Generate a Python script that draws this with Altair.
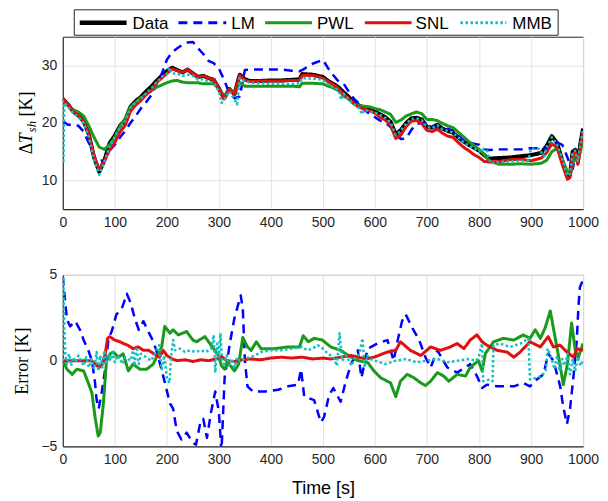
import altair as alt
import pandas as pd

SERIES = ["Data", "LM", "PWL", "SNL", "MMB"]
COLORS = ["#000000", "#0000FF", "#1A9A1A", "#E01010", "#10BFBF"]
DASHES = [[1, 0], [9, 6], [1, 0], [1, 0], [2.5, 2.5]]
WIDTHS = [4, 2.5, 3, 3, 2.5]
LEGEND_WIDTHS = [4.5, 3, 3, 3, 3]

# ---------------- top panel: superheat temperature [K] ----------------
T_TOP = [0, 10, 20, 30, 40, 50, 60, 70, 80, 90,
         100, 110, 120, 130, 140, 150, 160, 170, 180, 190,
         200, 210, 220, 230, 240, 250, 260, 270, 280, 290,
         300, 310, 320, 330, 340, 350, 360,
         380, 400, 420, 440, 455, 460, 480, 500,
         510, 520, 530, 540, 550, 560, 570, 580, 590, 600,
         610, 620, 630, 640, 650, 660, 670, 680, 690, 700,
         710, 720, 730, 740, 750, 760, 770, 780, 790, 800,
         810, 820,
         840, 860, 880, 900, 920,
         930, 940, 950, 960, 970,
         975, 980, 985, 990, 995, 1000]

DATA_TOP = [24.2, 23.2, 22.0, 21.3, 20.3, 18.0, 14.0, 11.5, 13.5, 16.5,
            17.8, 19.5, 20.5, 22.8, 23.8, 24.5, 25.5, 26.3, 27.3, 28.2,
            29.0, 29.6, 29.2, 28.8, 29.3, 28.6, 28.0, 28.2, 27.8, 27.5,
            26.0, 24.3, 25.9, 25.0, 28.4, 27.6, 27.3,
            27.3, 27.4, 27.4, 27.5, 27.6, 28.5, 28.4, 28.0,
            27.3, 26.8, 26.2, 25.3, 24.5, 23.5, 23.0, 22.6, 22.3, 22.0,
            21.5, 21.0, 20.2, 18.0, 18.8, 20.0, 20.8, 20.9, 20.6, 19.3,
            19.2, 19.7, 19.0, 18.6, 18.3, 17.5, 16.8, 16.2, 15.7, 15.2,
            14.4, 13.8,
            13.9, 14.0, 14.2, 14.4, 14.8,
            16.0, 17.7, 16.5, 13.5, 10.6,
            11.0, 15.0, 15.3, 13.2, 16.5, 19.0]

SNL_TOP = [24.2, 23.2, 22.0, 21.3, 20.3, 18.0, 14.2, 11.8, 13.4, 15.3,
           16.6, 18.4, 19.6, 22.0, 23.1, 23.9, 24.9, 25.7, 27.0, 27.8,
           28.6, 29.4, 29.1, 28.8, 29.3, 28.6, 28.0, 28.2, 27.8, 27.5,
           26.0, 24.2, 25.8, 25.0, 28.3, 27.4, 27.2,
           27.3, 27.3, 27.3, 27.4, 27.4, 28.3, 28.3, 27.8,
           27.2, 26.7, 26.0, 25.0, 24.2, 23.3, 22.7, 22.4, 22.1, 21.7,
           21.0, 20.5, 19.6, 17.3, 17.9, 19.4, 20.3, 20.4, 19.9, 18.7,
           18.5, 18.9, 18.2, 17.7, 17.5, 16.6, 15.8, 15.2, 14.5, 14.0,
           13.3, 13.2,
           13.3, 13.6, 13.7, 13.4, 13.9,
           14.8, 16.4, 15.7, 12.8, 10.2,
           10.5, 14.6, 14.9, 12.8, 16.0, 18.4]

PWL_TOP = [24.0, 23.0, 22.3, 21.9, 21.2, 19.5, 17.5, 15.8, 15.4, 16.2,
           17.5, 19.4, 20.8, 22.8, 23.6, 24.4, 25.0, 25.6, 26.2, 26.6,
           27.0, 27.3, 27.4, 27.1, 27.0, 27.0, 27.0, 26.8, 26.8, 26.8,
           26.0, 24.6, 25.8, 25.3, 27.0, 26.4, 26.4,
           26.4, 26.4, 26.4, 26.4, 26.3, 26.9, 26.9, 26.8,
           26.4, 26.1, 25.6, 24.7, 24.1, 23.3, 23.0, 22.9, 22.8, 22.5,
           22.3, 21.9, 21.5, 20.1, 20.5, 21.2, 21.6, 21.9, 21.6, 20.6,
           20.6, 20.4, 19.9, 19.5, 19.2, 18.4, 17.6, 16.8, 16.1, 15.4,
           14.5, 13.3,
           12.8, 12.8, 12.9, 12.8, 13.0,
           13.5, 15.0, 15.6, 13.6, 11.6,
           11.3, 12.8, 14.6, 13.5, 15.0, 17.5]

LM_TOP = [20.3, 19.7, 19.7, 19.5, 18.5, 16.5, 14.2, 13.4, 13.5, 15.2,
          16.2, 17.5, 18.6, 20.0, 21.2, 22.5, 23.6, 24.8, 26.8, 28.5,
          31.0, 32.3, 33.0, 33.6, 34.0, 34.1, 33.0, 32.0, 30.8, 30.4,
          29.5, 27.5, 25.2, 24.3, 24.6, 29.2, 29.3,
          29.3, 29.3, 29.3, 29.1, 29.0, 29.2, 30.3, 31.0,
          29.5, 28.3, 27.2, 26.8, 25.4, 24.2, 23.3, 22.3, 21.5, 21.0,
          20.4, 20.0, 19.3, 18.0, 17.2, 17.3, 18.8, 19.8, 20.0, 19.9,
          19.5, 19.0, 18.7, 19.0, 18.7, 17.8, 17.0, 16.6, 16.4, 16.2,
          15.4, 15.3,
          15.4, 15.4, 15.4, 15.6, 15.6,
          15.4, 16.2, 16.6, 16.2, 14.0,
          12.6, 12.0, 13.8, 14.6, 15.0, 13.8]

T_MMB = [0, 1, 3, 10, 20, 30, 40, 50, 60, 70,
         80, 90, 100, 110, 120, 130, 140, 150, 160, 170,
         180, 190, 200, 205, 210, 220, 230, 240, 250, 260,
         270, 280, 290, 300, 305, 310, 320, 330, 335, 340,
         350, 360, 380, 400, 420, 440, 455, 460, 480, 500,
         510, 520, 530, 535, 540, 550, 560, 570, 575, 580,
         590, 600, 610, 620, 630, 640, 650, 660, 670, 680,
         690, 700, 710, 720, 730, 740, 750, 760, 770, 780,
         790, 800, 806, 815, 822, 840, 860, 880, 895, 900,
         915, 925, 930, 940, 950, 960, 970, 975, 980, 985,
         990, 995, 1000]
MMB_TOP = [24.0, 13.0, 23.5, 22.8, 21.7, 21.0, 20.0, 17.6, 13.6, 11.0,
           13.2, 16.0, 17.6, 19.2, 20.3, 22.6, 23.6, 24.2, 25.2, 26.0,
           27.1, 28.0, 28.5, 29.6, 28.6, 28.6, 28.2, 28.4, 28.2, 27.5,
           27.6, 27.2, 27.0, 25.5, 23.5, 24.0, 25.5, 24.2, 23.2, 27.8,
           27.3, 27.0, 26.9, 26.8, 26.8, 26.8, 26.9, 27.8, 27.7, 27.5,
           26.7, 26.2, 25.7, 24.0, 25.1, 24.0, 23.2, 22.5, 21.5, 22.3,
           22.0, 21.8, 21.4, 20.9, 20.1, 17.9, 18.7, 19.9, 20.7, 20.8,
           20.5, 19.3, 19.1, 19.6, 18.9, 18.6, 18.3, 17.5, 16.7, 16.1,
           15.6, 15.0, 15.5, 15.4, 13.0, 13.2, 13.3, 13.4, 13.5, 15.5,
           15.5, 14.2, 15.8, 17.5, 16.3, 13.8, 10.8, 11.2, 14.8, 15.2,
           13.4, 16.4, 18.8]

# ---------------- bottom panel: error [K] ----------------
T_LM_ERR = [0, 4, 8, 14, 24, 33, 40, 49, 56, 62, 65, 69, 75, 81, 88, 94,
            103, 113, 123, 130, 139, 146, 155, 161, 171, 180, 193, 206, 212,
            219, 228, 238, 250, 256, 265, 270, 277, 285, 293, 300, 305, 311,
            321, 330, 342, 346, 350, 355, 365, 388, 414, 433, 452, 458, 464,
            483, 496, 502, 512, 520, 534, 544, 554, 567, 574, 586, 605, 624,
            636, 643, 652, 659, 672, 685, 697, 707, 720, 739, 758, 783, 796,
            806, 815, 835, 867, 885, 898, 911, 924, 933, 943, 956, 962, 969,
            975, 982, 988, 991, 994, 1000]
LM_ERR = [4.9, 3.6, 2.4, 2.0, 2.3, 1.8, 1.2, 0.6, 0.0, -1.3, -2.3, -2.8, -1.8, -0.6, 1.3, 1.7,
          2.7, 3.0, 3.9, 3.4, 2.4, 1.8, 2.3, 1.9, 1.3, 0.6, -0.9, -2.5, -2.8,
          -4.1, -4.6, -4.2, -4.8, -4.9, -3.5, -3.4, -4.5, -3.0, -1.8, -3.0, -5.3, -1.0,
          1.0, 2.5, 3.8, 3.0, 0.0, -1.5, -1.8, -1.8, -1.7, -1.5, -1.4, -0.5, -2.1,
          -2.3, -3.6, -3.3, -2.0, -1.6, -2.4, -1.2, -0.2, 0.6, -1.0, 0.7, 1.0, 1.2,
          0.0, 1.1, 2.3, 2.7, 1.9, 1.2, 0.2, -0.4, 0.6, -0.4, -0.7, -0.2, -0.9,
          -1.6, -1.4, -1.5, -1.5, -1.3, -1.5, -1.1, -0.8, 0.4, 0.0, -1.5, -2.7, -3.7,
          -2.8, -0.8, 1.2, 3.1, 4.3, 4.7]

T_PWL_ERR = [0, 8, 18, 27, 40, 49, 56, 62, 68, 72, 78, 84, 91, 97, 107, 116,
             126, 135, 148, 161, 174, 180, 190, 196, 206, 212, 222, 238, 250,
             257, 273, 285, 299, 305, 311, 317, 330, 338, 346, 355, 362, 372,
             381, 407, 432, 455, 462, 472, 483, 499, 515, 534, 554, 567, 586,
             598, 611, 630, 640, 649, 662, 675, 688, 697, 707, 720, 732, 742,
             758, 774, 783, 799, 806, 812, 828, 847, 867, 885, 898, 908, 918,
             927, 937, 943, 952, 962, 970, 978, 985, 991, 1000]
PWL_ERR = [0.0, -0.5, -0.8, -0.5, -0.6, -1.3, -1.9, -3.3, -4.4, -4.2, -2.5, 0.0, 0.4, 0.5, 0.2, 0.4,
           -0.6, -0.2, -0.5, -0.5, -0.2, 0.2, 0.8, 2.0, 1.6, 1.8, 1.5, 1.7, 1.2,
           1.1, 1.4, 0.9, 0.3, -0.3, -0.5, -0.1, -0.6, -0.2, 1.35, 0.8, 0.6, 1.1,
           0.7, 0.7, 0.8, 0.8, 1.45, 1.1, 1.3, 1.2, 0.8, 0.6, 0.2, 0.0, -0.1,
           -0.6, -1.0, -1.3, -2.1, -1.2, -0.8, -1.0, -1.3, -1.45, -1.2, -0.7, -0.9, -1.2,
           -0.8, -0.9, -0.4, 0.0, -0.6, 0.4, 1.1, 1.3, 1.2, 1.5, 1.3, 1.8, 1.3,
           1.9, 2.9, 1.9, 0.4, -1.4, -0.2, 2.2, 0.6, 0.2, 1.0]

T_SNL_ERR = [0, 20, 40, 55, 62, 70, 76, 81, 86, 90, 100, 110, 116, 125, 135,
             145, 155, 165, 170, 180, 186, 193, 200, 210, 220, 235, 250, 265,
             280, 295, 305, 315, 330, 345, 360, 380, 400, 420, 440, 460, 480,
             500, 515, 534, 554, 582, 598, 624, 640, 649, 668, 688, 707, 726,
             745, 758, 771, 783, 796, 806, 815, 835, 854, 867, 879, 898, 918,
             933, 943, 956, 969, 982, 988, 1000]
SNL_ERR = [0.0, 0.0, 0.0, 0.0, -0.2, -0.4, -0.2, 0.3, 1.3, 1.4, 1.2, 1.1, 1.0, 0.9, 0.7,
           0.8, 0.6, 0.6, 0.5, 0.3, 0.2, 0.6, 0.3, 0.1, 0.0, 0.05, -0.05, 0.05,
           0.0, 0.1, 0.25, 0.0, -0.05, 0.05, 0.1, 0.05, 0.15, 0.2, 0.15, 0.2, 0.1,
           0.15, 0.1, 0.2, 0.3, 0.1, 0.2, 0.5, 0.6, 1.1, 0.6, 0.3, 0.8, 0.6,
           0.8, 1.0, 0.7, 1.2, 1.5, 1.1, 0.9, 0.6, 0.5, 0.2, 0.5, 1.1, 0.8,
           1.4, 0.8, 0.9, 0.5, 0.2, 0.7, 0.6]

T_MMB_ERR = [0, 1, 3, 5, 8, 12, 16, 20, 25, 30, 35, 40, 45, 50, 55, 60, 65, 68,
             72, 76, 80, 84, 88, 92, 96, 100, 105, 110, 115, 120, 130, 135, 138,
             142, 146, 150, 160, 170, 180, 185, 190, 195, 200, 205, 208, 212,
             216, 225, 235, 245, 255, 265, 275, 285, 290, 293, 297, 300, 303,
             306, 310, 315, 320, 325, 330, 335, 340, 350, 360, 370, 380, 400,
             420, 440, 460, 470, 480, 490, 500, 510, 520, 527, 532, 537, 545,
             555, 560, 570, 576, 580, 585, 590, 600, 620, 640, 660, 680, 700,
             720, 740, 760, 780, 795, 800, 806, 808, 820, 826, 828, 840, 860,
             880, 895, 898, 910, 920, 928, 932, 940, 945, 950, 955, 960, 965,
             970, 975, 980, 985, 990, 995, 1000]
MMB_ERR = [0.0, 4.9, 2.0, 0.3, -0.2, 0.4, -0.3, 0.2, -0.1, 0.3, 0.0, -0.3, 0.2, -0.4, 0.1, -0.5, 0.5, -0.6,
           0.3, -0.4, 0.6, -0.2, 0.3, 0.0, 0.5, -0.1, 0.3, 0.1, -0.2, 0.2, 0.0, 0.6, -0.3,
           0.8, -0.2, 0.4, 0.2, 0.0, 0.6, 0.9, -0.5, 0.3, -1.0, -1.3, 0.2, 1.2,
           0.6, 0.7, 0.5, 0.6, 0.5, 0.6, 0.5, 0.7, 1.5, -0.7, 1.0, 0.2, 1.6,
           0.0, -0.2, 0.3, -0.3, 0.1, -0.4, 0.2, 0.0, 0.1, 0.2, 0.3, 0.5, 0.6,
           0.6, 0.7, 0.8, 0.6, 0.7, 0.9, 0.7, 0.4, 0.2, -0.3, 1.6, 0.0, 0.3,
           -0.3, 0.1, 0.4, 1.3, -0.4, 0.3, 0.1, 0.0, -0.2, 0.0, 0.1, -0.1, 0.0,
           0.1, -0.1, 0.0, 0.1, 0.0, 0.3, 1.0, -1.2, -1.1, -1.2, 0.9, 1.0, 0.8,
           1.0, 1.3, -1.1, -1.0, -0.9, -0.6, 0.7, 0.1, -0.5, 0.3, -0.6, 0.1, -0.3,
           0.4, -0.8, 0.1, -0.6, 0.2, -0.3, 0.0]

X_TICKS = list(range(0, 1001, 100))
TOP_Y_TICKS = [10, 20, 30]
BOT_Y_TICKS = [-5, 0, 5]

W, H_TOP, H_BOT = 522, 173, 172

AX = dict(labelFont="Liberation Sans", labelFontSize=14, labelColor="#262626",
          domainColor="#262626", gridColor="#e2e2e2", ticks=False,
          labelPadding=6, labelFlush=False)


def series_layer(t, v, name, ymin, ymax, yticks, ytitle, xtitle):
    i = SERIES.index(name)
    df = pd.DataFrame({"t": t, "v": v})
    x_axis = alt.Axis(values=X_TICKS, format="d", title=xtitle,
                      titleFont="Liberation Sans", titleFontSize=18,
                      titleFontWeight="normal", titleColor="black",
                      titlePadding=13, **AX)
    y_axis = alt.Axis(values=yticks, title=ytitle, titleFont="Liberation Serif",
                      titleFontSize=18, titleFontWeight="normal",
                      titleColor="black", titlePadding=9, **AX)
    return alt.Chart(df).mark_line(
        clip=True, strokeJoin="round", color=COLORS[i],
        strokeDash=DASHES[i], strokeWidth=WIDTHS[i]
    ).encode(
        x=alt.X("t:Q", scale=alt.Scale(domain=[0, 1000], nice=False), axis=x_axis),
        y=alt.Y("v:Q", scale=alt.Scale(domain=[ymin, ymax], nice=False), axis=y_axis),
    )


one = pd.DataFrame({"a": [0]})


def text_piece(txt, x, y, size, style, font, angle):
    return alt.Chart(one).mark_text(
        angle=angle, align="left", baseline="alphabetic",
        font=font, fontSize=size, fontStyle=style, color="black"
    ).encode(x=alt.value(x), y=alt.value(y), text=alt.value(txt))


# legend (drawn by hand above the top axes, MATLAB style)
LEG_SEG = [(17, 64), (116, 164), (203, 250), (303, 350), (399, 445)]
LEG_LABEL_X = [70, 169, 255, 354, 451]
LEG_Y = -14
legend_layers = [
    alt.Chart(one).mark_rect(fill="white", stroke="#262626", strokeWidth=1).encode(
        x=alt.value(11.5), x2=alt.value(497), y=alt.value(-27), y2=alt.value(-1.5))
]
for i, name in enumerate(SERIES):
    x0, x1 = LEG_SEG[i]
    legend_layers.append(
        alt.Chart(one).mark_rule(color=COLORS[i], strokeDash=DASHES[i],
                                 strokeWidth=LEGEND_WIDTHS[i]).encode(
            x=alt.value(x0), x2=alt.value(x1), y=alt.value(LEG_Y)))
    legend_layers.append(text_piece(name, LEG_LABEL_X[i], LEG_Y + 6, 17, "normal",
                                    "Liberation Sans", 0))

top_series = [
    series_layer(T_TOP, DATA_TOP, "Data", 5, 35, TOP_Y_TICKS, None, None),
    series_layer(T_TOP, LM_TOP, "LM", 5, 35, TOP_Y_TICKS, None, None),
    series_layer(T_TOP, PWL_TOP, "PWL", 5, 35, TOP_Y_TICKS, None, None),
    series_layer(T_TOP, SNL_TOP, "SNL", 5, 35, TOP_Y_TICKS, None, None),
    series_layer(T_MMB, MMB_TOP, "MMB", 5, 35, TOP_Y_TICKS, None, None),
]
top_title = [
    text_piece("\u0394", -31, 118, 18, "normal", "Liberation Serif", 270),
    text_piece("T", -31, 107, 18, "italic", "Liberation Serif", 270),
    text_piece("sh", -27, 96, 13, "italic", "Liberation Serif", 270),
    text_piece("[K]", -31, 80, 18, "normal", "Liberation Serif", 270),
]
top = alt.layer(*top_series, *top_title, *legend_layers).properties(width=W, height=H_TOP)

bot_series = [
    series_layer(T_LM_ERR, LM_ERR, "LM", -5, 5, BOT_Y_TICKS, "Error [K]", "Time [s]"),
    series_layer(T_PWL_ERR, PWL_ERR, "PWL", -5, 5, BOT_Y_TICKS, "Error [K]", "Time [s]"),
    series_layer(T_SNL_ERR, SNL_ERR, "SNL", -5, 5, BOT_Y_TICKS, "Error [K]", "Time [s]"),
    series_layer(T_MMB_ERR, MMB_ERR, "MMB", -5, 5, BOT_Y_TICKS, "Error [K]", "Time [s]"),
]
bottom = alt.layer(*bot_series).properties(width=W, height=H_BOT)

chart = alt.vconcat(top, bottom, spacing=37).properties(
    padding={"left": 5, "top": 0, "right": 0, "bottom": 0}
).configure_view(stroke="#262626", strokeWidth=1)

chart.save("out.html", embed_options={"renderer": "svg", "actions": False})
